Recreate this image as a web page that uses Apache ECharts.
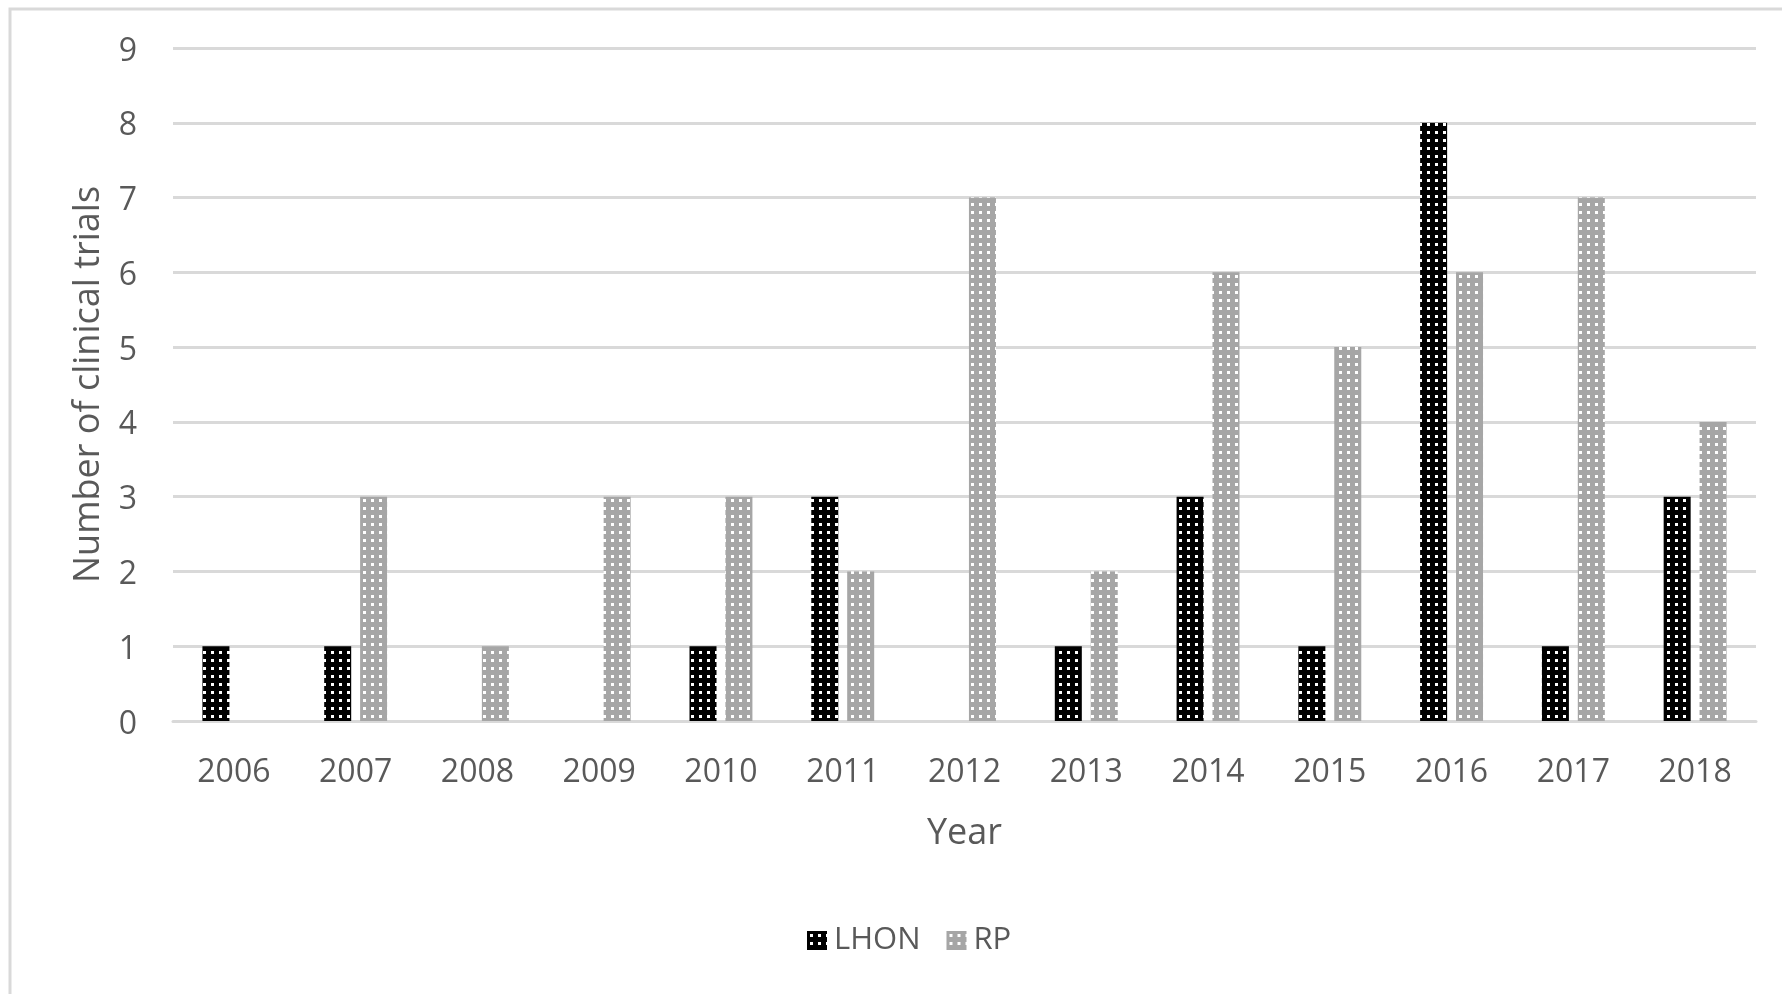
<!DOCTYPE html>
<html>
<head>
<meta charset="utf-8">
<script src="https://cdn.jsdelivr.net/npm/echarts@6/dist/echarts.min.js"></script>
<style>
  html, body { margin: 0; padding: 0; background: #fff; }
  #chart { width: 1782px; height: 994px; }
</style>
</head>
<body>
<div id="chart"></div>
<script>
// Clinical trials per year by condition
const years = ['2006', '2007', '2008', '2009', '2010', '2011', '2012', '2013', '2014', '2015', '2016', '2017', '2018'];
const lhon = [1, 1, 0, 0, 1, 3, 0, 1, 3, 1, 8, 1, 3];
const rp = [0, 3, 1, 3, 3, 2, 7, 2, 6, 5, 6, 7, 4];
const yTicks = [0, 1, 2, 3, 4, 5, 6, 7, 8, 9];

// Dotted-grid fill: solid background with small white squares
function dotPattern(bg, size, dot) {
  const c = document.createElement('canvas');
  c.width = size; c.height = size;
  const ctx = c.getContext('2d');
  ctx.fillStyle = bg;
  ctx.fillRect(0, 0, size, size);
  ctx.fillStyle = '#ffffff';
  ctx.fillRect(3, 3, dot, dot);
  return { image: c, repeat: 'repeat' };
}

const FONT = '"Open Sans", sans-serif';
const TEXT = '#595959';

const chart = echarts.init(document.getElementById('chart'));
chart.setOption({
  animation: false,
  backgroundColor: '#ffffff',
  graphic: [{
    type: 'rect',
    shape: { x: 10, y: 9, width: 1800, height: 1000 },
    style: { fill: 'none', stroke: '#d9d9d9', lineWidth: 3 },
    silent: true
  }],
  grid: { left: 173, right: 26, top: 48, bottom: 273 },
  legend: {
    left: 807,
    top: 925,
    padding: 0,
    icon: 'rect',
    itemWidth: 20,
    itemHeight: 19,
    itemGap: 26,
    textStyle: { color: TEXT, fontSize: 31, fontFamily: FONT, padding: [0, 0, 0, 2] },
    data: ['LHON', 'RP']
  },
  xAxis: {
    type: 'category',
    data: years,
    name: 'Year',
    nameLocation: 'middle',
    nameGap: 95,
    nameTextStyle: { color: TEXT, fontSize: 36, fontFamily: FONT },
    axisLine: { lineStyle: { color: '#d9d9d9', width: 3 } },
    axisTick: { show: false },
    axisLabel: { color: TEXT, fontSize: 32, fontFamily: FONT, margin: 36 }
  },
  yAxis: {
    type: 'value',
    min: yTicks[0],
    max: yTicks[yTicks.length - 1],
    interval: 1,
    name: 'Number of clinical trials',
    nameLocation: 'middle',
    nameGap: 66,
    nameTextStyle: { color: TEXT, fontSize: 36, fontFamily: FONT },
    axisLine: { show: false },
    axisTick: { show: false },
    axisLabel: {
      margin: 36,
      formatter: '{t|{value}}',
      rich: { t: { color: TEXT, fontSize: 32, fontFamily: FONT, padding: [7, 0, 0, 0] } }
    },
    splitLine: { lineStyle: { color: '#d9d9d9', width: 3 } }
  },
  series: [
    {
      name: 'LHON',
      type: 'bar',
      data: lhon,
      barWidth: 27,
      barGap: '33%',
      itemStyle: { color: dotPattern('#000000', 8, 3) }
    },
    {
      name: 'RP',
      type: 'bar',
      data: rp,
      barWidth: 27,
      itemStyle: { color: dotPattern('#a6a6a6', 8, 3) }
    }
  ]
});
</script>
</body>
</html>
